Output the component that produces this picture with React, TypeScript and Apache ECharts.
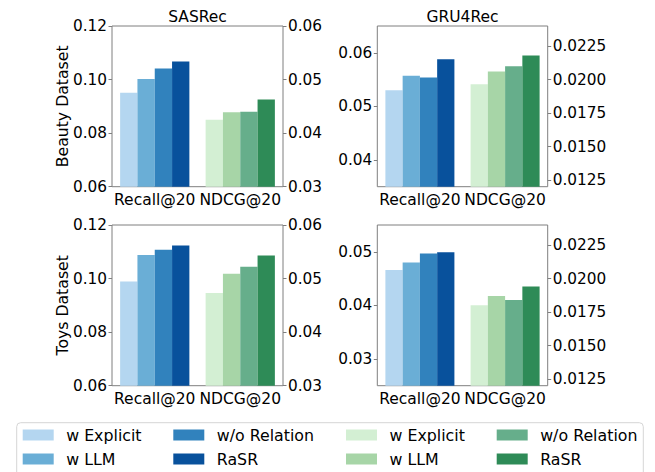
import React, { useEffect, useRef } from 'react';
import * as echarts from 'echarts';

const categories = ['Recall@20', 'NDCG@20'];
const variants = ['w Explicit', 'w LLM', 'w/o Relation', 'RaSR'];
const models = ['SASRec', 'GRU4Rec'];
const datasets = ['Beauty Dataset', 'Toys Dataset'];

const sasBeautyRecall = [0.0951, 0.1002, 0.1041, 0.1067];
const sasBeautyNdcg = [0.0425, 0.0439, 0.044, 0.0463];
const sasToysRecall = [0.0989, 0.1088, 0.1108, 0.1123];
const sasToysNdcg = [0.0473, 0.0509, 0.0522, 0.0543];
const gruBeautyRecall = [0.053, 0.0557, 0.0554, 0.0588];
const gruBeautyNdcg = [0.01965, 0.0206, 0.0210, 0.0218];
const gruToysRecall = [0.0466, 0.048, 0.0497, 0.0499];
const gruToysNdcg = [0.018, 0.0187, 0.0184, 0.0194];

const sasLeftTicks = [0.06, 0.08, 0.1, 0.12];
const sasRightTicks = [0.03, 0.04, 0.05, 0.06];
const gruBeautyLeftTicks = [0.04, 0.05, 0.06];
const gruToysLeftTicks = [0.03, 0.04, 0.05];
const gruRightTicks = [0.0125, 0.015, 0.0175, 0.02, 0.0225];

const blueColors = ['#b4d6f0', '#6aaed6', '#3182bd', '#08519c'];
const greenColors = ['#d3efd3', '#a7d5a7', '#66ae8b', '#2e8b57'];

const FONT = 'DejaVu Sans';
const SPINE = '#7f7f7f';

const panels = [
  { row: 0, col: 0, recall: sasBeautyRecall, ndcg: sasBeautyNdcg, lMin: 0.06, lMax: 0.12, lTicks: sasLeftTicks, lDig: 2, rMin: 0.03, rMax: 0.06, rTicks: sasRightTicks, rDig: 2 },
  { row: 0, col: 1, recall: gruBeautyRecall, ndcg: gruBeautyNdcg, lMin: 0.035, lMax: 0.065, lTicks: gruBeautyLeftTicks, lDig: 2, rMin: 0.012, rMax: 0.024, rTicks: gruRightTicks, rDig: 4 },
  { row: 1, col: 0, recall: sasToysRecall, ndcg: sasToysNdcg, lMin: 0.06, lMax: 0.12, lTicks: sasLeftTicks, lDig: 2, rMin: 0.03, rMax: 0.06, rTicks: sasRightTicks, rDig: 2 },
  { row: 1, col: 1, recall: gruToysRecall, ndcg: gruToysNdcg, lMin: 0.025, lMax: 0.055, lTicks: gruToysLeftTicks, lDig: 2, rMin: 0.012, rMax: 0.024, rTicks: gruRightTicks, rDig: 4 },
];

const colLeft = [112, 377.3];
const colWidth = [171, 170.4];
const rowTop = [26, 225];
const plotH = 160.7;

export default function App() {
  const ref = useRef<HTMLDivElement>(null);
  useEffect(() => {
    if (!ref.current) return;
    const chart = echarts.init(ref.current, undefined, { renderer: 'svg' });
    const grid: any[] = [];
    const xAxis: any[] = [];
    const yAxis: any[] = [];
    const series: any[] = [];
    const tickStyle = { show: true, length: 3.5, lineStyle: { color: SPINE, width: 1 } };
    panels.forEach((p, i) => {
      grid.push({
        left: colLeft[p.col], top: rowTop[p.row], width: colWidth[p.col], height: plotH,
        show: true, borderColor: SPINE, borderWidth: 1, backgroundColor: 'transparent',
      });
      xAxis.push({
        type: 'category', gridIndex: i, data: categories, position: 'bottom',
        axisLine: { show: false }, axisTick: { show: false },
        axisLabel: { color: '#000', fontFamily: FONT, fontSize: 15.5, margin: 5, interval: 0, hideOverlap: false },
      });
      xAxis.push({
        type: 'category', gridIndex: i, data: categories, position: 'top', show: false,
      });
      yAxis.push({
        type: 'value', gridIndex: i, position: 'left', min: p.lMin, max: p.lMax,
        splitLine: { show: false }, axisLine: { show: false },
        axisTick: { ...tickStyle, customValues: p.lTicks },
        axisLabel: { color: '#000', fontFamily: FONT, fontSize: 15.3, margin: 5, customValues: p.lTicks, formatter: (v: number) => v.toFixed(p.lDig) },
      });
      yAxis.push({
        type: 'value', gridIndex: i, position: 'right', min: p.rMin, max: p.rMax,
        splitLine: { show: false }, axisLine: { show: false },
        axisTick: { ...tickStyle, customValues: p.rTicks },
        axisLabel: { color: '#000', fontFamily: FONT, fontSize: 15.3, margin: 5, customValues: p.rTicks, formatter: (v: number) => v.toFixed(p.rDig) },
      });
      variants.forEach((name, k) => {
        series.push({
          type: 'bar', name, xAxisIndex: 2 * i, yAxisIndex: 2 * i,
          data: [p.recall[k], '-'], barGap: '0%', barCategoryGap: '19%',
          itemStyle: { color: blueColors[k] },
        });
      });
      variants.forEach((name, k) => {
        series.push({
          type: 'bar', name, xAxisIndex: 2 * i + 1, yAxisIndex: 2 * i + 1,
          data: ['-', p.ndcg[k]], barGap: '0%', barCategoryGap: '19%',
          itemStyle: { color: greenColors[k] },
        });
      });
    });

    const legendCommon = {
      orient: 'vertical', selectedMode: false, icon: 'rect', itemWidth: 31, itemHeight: 11,
      itemGap: 8, top: 427, padding: 0,
      textStyle: { color: '#000', fontFamily: FONT, fontSize: 15.8, padding: [0, 0, 0, 7.5] },
    };
    const legend = [
      { ...legendCommon, left: 22.7, data: [0, 1].map((k) => ({ name: variants[k], itemStyle: { color: blueColors[k] } })) },
      { ...legendCommon, left: 173.3, data: [2, 3].map((k) => ({ name: variants[k], itemStyle: { color: blueColors[k] } })) },
      { ...legendCommon, left: 346, data: [0, 1].map((k) => ({ name: variants[k], itemStyle: { color: greenColors[k] } })) },
      { ...legendCommon, left: 496.7, data: [2, 3].map((k) => ({ name: variants[k], itemStyle: { color: greenColors[k] } })) },
    ];

    const graphic: any[] = [
      {
        type: 'rect', z: 0, shape: { x: 16.7, y: 422.7, width: 626.6, height: 60, r: 4 },
        style: { fill: 'rgba(255,255,255,0.8)', stroke: '#d6d6d6', lineWidth: 1 },
      },
    ];
    models.forEach((m, c) => {
      graphic.push({
        type: 'text', x: colLeft[c] + colWidth[c] / 2, y: 17,
        style: { text: m, fontFamily: FONT, fontSize: 15.5, fill: '#000', textAlign: 'center', textVerticalAlign: 'middle' },
      });
    });
    datasets.forEach((d, r) => {
      graphic.push({
        type: 'text', x: 62.5, y: rowTop[r] + plotH / 2, rotation: Math.PI / 2,
        style: { text: d, fontFamily: FONT, fontSize: 15.7, fill: '#000', textAlign: 'center', textVerticalAlign: 'middle' },
      });
    });

    chart.setOption({
      animation: false,
      backgroundColor: '#fff',
      grid, xAxis, yAxis, series, legend, graphic,
    });
    return () => chart.dispose();
  }, []);
  return <div ref={ref} style={{ position: 'fixed', left: 0, top: 0, width: 655, height: 472 }} />;
}
